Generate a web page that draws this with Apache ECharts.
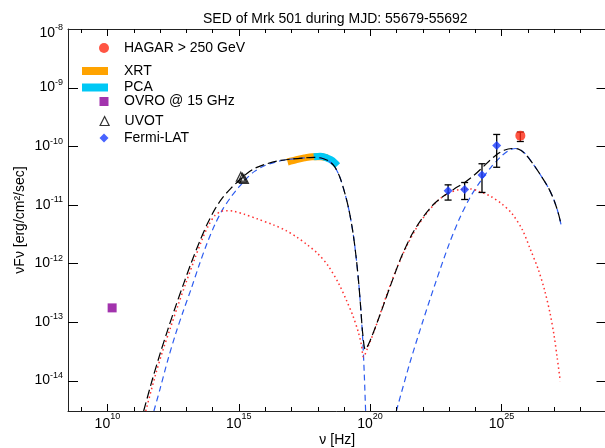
<!DOCTYPE html>
<html><head><meta charset="utf-8">
<script src="https://cdn.jsdelivr.net/npm/echarts@6/dist/echarts.min.js"></script>
<style>html,body{margin:0;padding:0;background:#fff}#c{width:605px;height:448px}</style>
</head><body><div id="c"></div>
<script>
// All values in log10 units: x = log10(nu / Hz), y = log10(nuFnu / erg cm^-2 s^-1)
const totalModel = [[11.38,-14.52],[11.7,-14.0],[12.0,-13.55],[12.3,-13.13],[12.6,-12.73],[12.9,-12.35],[13.2,-11.98],[13.5,-11.64],[13.8,-11.33],[14.1,-11.07],[14.4,-10.87],[14.7,-10.72],[15.0,-10.59],[15.3,-10.47],[15.6,-10.38],[16.0,-10.31],[16.5,-10.25],[17.0,-10.22],[17.5,-10.2],[17.9,-10.19],[18.2,-10.21],[18.45,-10.26],[18.65,-10.35],[18.85,-10.53],[19.05,-10.82],[19.2,-11.1],[19.35,-11.48],[19.47,-11.9],[19.57,-12.35],[19.65,-12.8],[19.72,-13.2],[19.82,-13.47],[20.0,-13.32],[20.4,-12.85],[20.8,-12.35],[21.2,-11.88],[21.6,-11.5],[22.0,-11.22],[22.4,-11.0],[22.8,-10.85],[23.2,-10.73],[23.6,-10.62],[24.0,-10.48],[24.4,-10.31],[24.8,-10.15],[25.1,-10.07],[25.4,-10.04],[25.65,-10.05],[25.9,-10.13],[26.2,-10.3],[26.5,-10.5],[26.8,-10.72],[27.0,-10.92],[27.15,-11.12],[27.27,-11.33]];
const componentBlue = [[11.77,-14.52],[12.0,-14.15],[12.3,-13.65],[12.6,-13.2],[12.9,-12.8],[13.2,-12.42],[13.5,-12.02],[13.8,-11.65],[14.1,-11.33],[14.4,-11.07],[14.7,-10.87],[15.0,-10.7],[15.3,-10.55],[15.6,-10.43],[16.0,-10.33],[16.5,-10.26],[17.0,-10.22],[17.5,-10.2],[17.9,-10.19],[18.2,-10.21],[18.45,-10.26],[18.65,-10.35],[18.85,-10.53],[19.05,-10.82],[19.2,-11.1],[19.35,-11.48],[19.47,-11.9],[19.57,-12.35],[19.65,-12.8],[19.72,-13.3],[19.78,-13.9],[19.83,-14.52]];
const componentBlueIC = [[21.0,-14.52],[21.5,-13.72],[22.0,-13.0],[22.5,-12.32],[23.0,-11.68],[23.4,-11.24],[23.8,-10.88],[24.2,-10.6],[24.6,-10.36],[25.0,-10.17],[25.3,-10.07],[25.55,-10.04],[25.75,-10.07],[25.95,-10.15],[26.2,-10.3],[26.5,-10.5],[26.8,-10.72],[27.0,-10.92],[27.15,-11.12],[27.28,-11.36]];
const componentRed = [[11.46,-14.52],[11.8,-13.95],[12.1,-13.5],[12.4,-13.1],[12.7,-12.7],[13.0,-12.32],[13.3,-11.95],[13.6,-11.6],[13.85,-11.35],[14.1,-11.18],[14.35,-11.11],[14.55,-11.1],[14.8,-11.11],[15.2,-11.16],[15.7,-11.24],[16.3,-11.34],[16.8,-11.44],[17.2,-11.55],[17.6,-11.68],[18.0,-11.83],[18.4,-12.04],[18.8,-12.34],[19.1,-12.63],[19.35,-12.9],[19.55,-13.17],[19.67,-13.39],[19.75,-13.6],[19.9,-13.45],[20.2,-13.1],[20.6,-12.58],[21.0,-12.1],[21.4,-11.7],[21.8,-11.37],[22.2,-11.12],[22.6,-10.92],[23.0,-10.8],[23.4,-10.74],[23.8,-10.73],[24.2,-10.78],[24.6,-10.86],[25.0,-10.98],[25.4,-11.15],[25.8,-11.43],[26.1,-11.76],[26.4,-12.1],[26.65,-12.47],[26.85,-12.85],[27.0,-13.22],[27.12,-13.6],[27.24,-14.01]];
const xrtData = [[16.86,-10.27],[17.2,-10.23],[17.5,-10.2],[17.8,-10.18],[18.1,-10.18],[18.38,-10.2]];
const pcaData = [[17.86,-10.18],[18.1,-10.17],[18.3,-10.19],[18.5,-10.23],[18.65,-10.28],[18.76,-10.33]];
const ovroData = [[10.18,-12.76]];
const uvotData = [[15.08,-10.52],[15.14,-10.54],[15.2,-10.56]];
const fermiData = [[22.97,-10.76],[23.6,-10.74],[24.26,-10.49],[24.82,-9.99]];
const fermiErr = [[22.97,-10.92,-10.66],[23.6,-10.91,-10.62],[24.26,-10.79,-10.3],[24.82,-10.36,-9.8]];
const hagarData = [[25.72,-9.82]];
const hagarErr = [[25.72,-9.92,-9.76]];
// axis ranges (decades) and tick labels / tick positions
const X_MIN = 8.5, X_MAX = 29, Y_MIN = -14.52, Y_MAX = -8;
const xTickLabels = [10,15,20,25];
const yTickLabels = [-14,-13,-12,-11,-10,-9,-8];
const xMinorTickValues = [9,10,11,12,13,14,15,16,17,18,19,20,21,22,23,24,25,26,27,28];
const yTickValues = [-14,-13,-12,-11,-10,-9];

const FONT = "'Liberation Sans', Arial, sans-serif";
const chart = echarts.init(document.getElementById('c'), null, {renderer:'canvas'});

function isNear(v, arr){ const r = Math.round(v); return Math.abs(v-r)<1e-6 && arr.indexOf(r)>=0 ? r : null; }

function errRender(params, api){
  const x = api.value(0), lo = api.value(1), hi = api.value(2);
  const a = api.coord([x, lo]), b = api.coord([x, hi]);
  const w = 3.5, st = {stroke:'#000', lineWidth:1.3};
  return {type:'group', children:[
    {type:'line', shape:{x1:a[0],y1:a[1],x2:b[0],y2:b[1]}, style:st},
    {type:'line', shape:{x1:a[0]-w,y1:a[1],x2:a[0]+w,y2:a[1]}, style:st},
    {type:'line', shape:{x1:b[0]-w,y1:b[1],x2:b[0]+w,y2:b[1]}, style:st}
  ]};
}
// frame ticks, positioned through the axis scales (value -> pixel via api.coord)
function xTickRender(params, api){
  const v = api.value(0);
  const len = xTickLabels.indexOf(v) >= 0 ? 7 : 4;
  const pb = api.coord([v, Y_MIN]), pt = api.coord([v, Y_MAX]);
  const x = Math.round(pb[0]) + 0.5;
  const st = {stroke:'#000', lineWidth:1};
  return {type:'group', children:[
    {type:'line', shape:{x1:x, y1:pb[1], x2:x, y2:pb[1]-len}, style:st},
    {type:'line', shape:{x1:x, y1:pt[1], x2:x, y2:pt[1]+len}, style:st}
  ]};
}
function yTickRender(params, api){
  const v = api.value(1);
  const pl = api.coord([X_MIN, v]), pr = api.coord([X_MAX, v]);
  const y = Math.round(pl[1]) + 0.5;
  const st = {stroke:'#000', lineWidth:1};
  return {type:'group', children:[
    {type:'line', shape:{x1:pl[0], y1:y, x2:pl[0]+10, y2:y}, style:st},
    {type:'line', shape:{x1:pr[0], y1:y, x2:pr[0]-10, y2:y}, style:st}
  ]};
}

const lineOn = {show:true, onZero:false, lineStyle:{color:'#222', width:1}};
function xAx(extra){ return Object.assign({type:'value', min:X_MIN, max:X_MAX, gridIndex:0, splitLine:{show:false}, axisLine:lineOn, axisTick:{show:false}, axisLabel:{show:false}}, extra); }
function yAx(extra){ return Object.assign({type:'value', min:Y_MIN, max:Y_MAX, minInterval:1, maxInterval:1, splitNumber:7, gridIndex:0, splitLine:{show:false}, axisLine:lineOn, axisTick:{show:false}, axisLabel:{show:false}}, extra); }

function legendItem(name, icon, left, top, w, h, pad, extra){
  const d = {name:name, icon:icon};
  if (extra) d.itemStyle = extra;
  return {data:[d], left:left, top:top, itemWidth:w, itemHeight:h, padding:0, selectedMode:false,
    textStyle:{fontSize:14, color:'#000', fontFamily:FONT, lineHeight:16, padding:[0,0,0,pad]}};
}

const option = {
  animation:false,
  textStyle:{fontFamily:FONT, color:'#000'},
  title:{text:'SED of Mrk 501 during MJD: 55679-55692', left:203, top:12, padding:0,
    textStyle:{fontSize:14, fontWeight:'normal', color:'#000', fontFamily:FONT}},
  grid:{left:68, top:29, width:538.5, height:382, containLabel:false, outerBoundsMode:'none'},
  legend:[
    legendItem('HAGAR > 250 GeV','circle',99,40,10,10,10),
    legendItem('XRT','rect',82,63,26,8,11),
    legendItem('PCA','rect',82,79.5,26,8,11),
    legendItem('OVRO @ 15 GHz','rect',99.5,93.5,9,9,10.5),
    legendItem('UVOT','triangle',99.5,113,9,9,10.5,{color:'rgba(0,0,0,0)', borderColor:'#000', borderWidth:1.2}),
    legendItem('Fermi-LAT','diamond',99.5,130,9,9,10.5)
  ],
  xAxis:[
    xAx({position:'bottom', minInterval:5, maxInterval:5, splitNumber:4,
      name:'ν [Hz]', nameLocation:'middle', nameGap:22, nameMoveOverlap:false,
      nameTextStyle:{fontSize:14, color:'#000', fontFamily:FONT},
      axisLabel:{show:true, margin:5, color:'#000', fontFamily:FONT,
        formatter:function(v){ const r = isNear(v, xTickLabels); return r===null ? '' : '{b|10}{s|'+r+'}'; },
        rich:{b:{fontSize:14, lineHeight:16, color:'#000', fontFamily:FONT}, s:{fontSize:9, lineHeight:10, padding:[0,0,14,0], color:'#000', fontFamily:FONT}}}}),
    xAx({position:'top', minInterval:5, maxInterval:5, splitNumber:4})
  ],
  yAxis:[
    yAx({position:'left',
      name:'νFν [erg/cm²/sec]', nameLocation:'middle', nameGap:41, nameMoveOverlap:false,
      nameTextStyle:{fontSize:14, color:'#000', fontFamily:FONT},
      axisLabel:{show:true, margin:5, color:'#000', fontFamily:FONT,
        formatter:function(v){ const r = isNear(v, yTickLabels); if (r===null) return ''; return r===-8 ? '{bt|10}{st|'+r+'}' : '{b|10}{s|'+r+'}'; },
        rich:{b:{fontSize:14, lineHeight:16, color:'#000', fontFamily:FONT}, s:{fontSize:9, lineHeight:10, padding:[0,0,10,0], color:'#000', fontFamily:FONT},
              bt:{fontSize:14, lineHeight:16, padding:[8,0,0,0], color:'#000', fontFamily:FONT}, st:{fontSize:9, lineHeight:10, padding:[8,0,10,0], color:'#000', fontFamily:FONT}}}}),
    yAx({position:'right'})
  ],
  series:[
    {name:'x-ticks', type:'custom', data:xMinorTickValues.map(function(v){return [v, Y_MIN];}), renderItem:xTickRender, encode:{x:0, y:1}, z:6, clip:false, silent:true},
    {name:'y-ticks', type:'custom', data:yTickValues.map(function(v){return [X_MIN, v];}), renderItem:yTickRender, encode:{x:0, y:1}, z:6, clip:false, silent:true},
    {name:'XRT', type:'line', data:xrtData, showSymbol:false, symbol:'none', color:'#FFA300', z:1,
      lineStyle:{color:'#FFA300', width:7, cap:'butt'}, itemStyle:{color:'#FFA300'}, smooth:0.3},
    {name:'PCA', type:'line', data:pcaData, showSymbol:false, symbol:'none', color:'#00C8F5', z:1,
      lineStyle:{color:'#00C8F5', width:7, cap:'butt'}, itemStyle:{color:'#00C8F5'}, smooth:0.3},
    {name:'model-blue-sync', type:'line', data:componentBlue, showSymbol:false, symbol:'none', z:2, smooth:0.3,
      lineStyle:{color:'#2d5cf0', width:1.2, type:[6,4]}},
    {name:'model-blue-ic', type:'line', data:componentBlueIC, showSymbol:false, symbol:'none', z:2, smooth:0.3,
      lineStyle:{color:'#2d5cf0', width:1.2, type:[6,4]}},
    {name:'model-red', type:'line', data:componentRed, showSymbol:false, symbol:'none', z:2, smooth:0.3,
      lineStyle:{color:'#ff3030', width:1.5, type:[1.5,3]}},
    {name:'model-total', type:'line', data:totalModel, showSymbol:false, symbol:'none', z:3, smooth:0.3,
      lineStyle:{color:'#000', width:1.2, type:[9,4]}},
    {name:'fermi-err', type:'custom', data:fermiErr, renderItem:errRender, encode:{x:0, y:[1,2]}, z:4},
    {name:'hagar-err', type:'custom', data:hagarErr, renderItem:errRender, encode:{x:0, y:[1,2]}, z:4},
    {name:'OVRO @ 15 GHz', type:'scatter', data:ovroData, symbol:'rect', symbolSize:9, z:5, itemStyle:{color:'#8B0099'}},
    {name:'UVOT', type:'scatter', data:uvotData, symbol:'triangle', symbolSize:9, z:5,
      itemStyle:{color:'rgba(0,0,0,0)', borderColor:'#000', borderWidth:1.2}},
    {name:'Fermi-LAT', type:'scatter', data:fermiData, symbol:'diamond', symbolSize:9, z:5, itemStyle:{color:'#1a3cff'}},
    {name:'HAGAR > 250 GeV', type:'scatter', data:hagarData, symbol:'circle', symbolSize:10, z:5, itemStyle:{color:'#ff2a14'}}
  ]
};
chart.setOption(option);
</script>
</body></html>
